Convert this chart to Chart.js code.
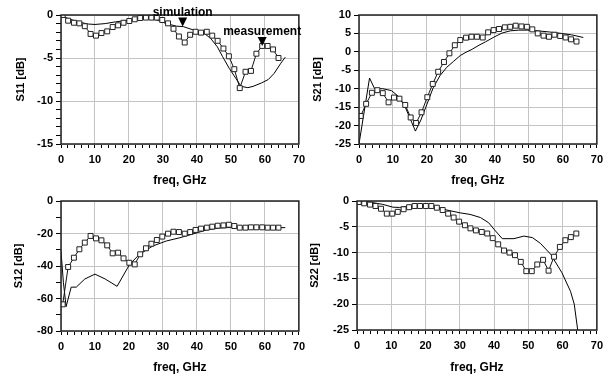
<!DOCTYPE html>
<html>
<head>
<meta charset="utf-8">
<script src="https://cdn.jsdelivr.net/npm/chart.js@4.4.1/dist/chart.umd.min.js"></script>
<style>
  html, body { margin: 0; padding: 0; background: #fff; }
  #wrap { position: relative; width: 613px; height: 376px; overflow: hidden; }
  .panel { position: absolute; }
</style>
</head>
<body>
<div id="wrap">
  <div class="panel" style="left:0px;top:0px;width:310px;height:190px"><canvas id="s11"></canvas></div>
  <div class="panel" style="left:300px;top:0px;width:308px;height:190px"><canvas id="s21"></canvas></div>
  <div class="panel" style="left:0px;top:186px;width:310px;height:190px"><canvas id="s12"></canvas></div>
  <div class="panel" style="left:300px;top:186px;width:308px;height:190px"><canvas id="s22"></canvas></div>
</div>
<script>
// measured frequencies (GHz), shared by all four measured curves
const measFreq = [0.5, 2.1, 3.8, 5.4, 7.0, 8.7, 10.3, 11.9, 13.6, 15.2, 16.8, 18.4, 20.1, 21.7, 23.3, 25.0, 26.6, 28.2, 29.8, 31.5,
  33.1, 34.7, 36.4, 38.0, 39.6, 41.2, 42.9, 44.5, 46.1, 47.8, 49.4, 51.0, 52.6, 54.3, 55.9, 57.5, 59.2, 60.8, 62.4, 64.0];

const s11Meas = [0, -0.66, -0.9, -0.97, -1.3, -2.2, -2.4, -2.1, -1.9, -1.4, -1.2, -0.9, -0.7, -0.5, -0.35, -0.3, -0.3, -0.3, -0.58, -0.97,
  -1.6, -2.5, -3.2, -2.3, -1.95, -2.05, -1.95, -2.4, -3.0, -3.9, -4.8, -6.3, -8.5, -6.6, -6.5, -4.5, -3.6, -3.6, -4.0, -5.0];
const s11SimFreq = [0, 2, 5, 8, 10, 13, 16, 20, 24, 28, 31, 34, 36, 39, 42, 44, 46, 47.5, 49.5, 51.5, 53, 55, 56.5, 59, 61, 62.7, 64.7, 66];
const s11Sim = [0, -0.4, -0.8, -1.05, -1.1, -1.0, -0.8, -0.6, -0.5, -0.55, -1.0, -1.3, -1.35, -1.75, -2.1, -2.7, -3.7, -4.8, -6.2, -7.4,
  -8.3, -8.45, -8.3, -7.9, -7.5, -6.8, -5.6, -4.9];

const s21Meas = [-17.4, -14.1, -11.1, -10.4, -11.2, -13.7, -12.4, -12.7, -14.4, -17.8, -19.3, -16.4, -12.3, -8.7, -5.4, -2.75, -0.4, 1.8, 3.2, 3.85,
  4.1, 4.1, 3.9, 5.3, 5.9, 6.2, 6.65, 6.8, 7.1, 6.9, 6.8, 6.1, 5.0, 4.4, 4.1, 4.65, 4.3, 3.9, 3.4, 2.8];
const s21SimFreq = [0, 3.1, 4.6, 7, 9.5, 11.5, 13.5, 15, 16.6, 18.2, 20, 21.8, 23.8, 25.8, 27.8, 29.8, 31.5, 33.3, 35.3, 37.2,
  39.7, 42.1, 44.5, 47, 49.5, 52, 56, 59.6, 62.6, 66];
const s21Sim = [-25, -7.1, -10, -10, -10.5, -12, -14.8, -18, -21.5, -18.5, -14.2, -9.8, -6.5, -4.2, -2.6, -1.0, -0.1, 0.7, 1.8, 2.7,
  4.0, 5.1, 5.7, 5.9, 5.9, 5.75, 5.4, 5.0, 4.6, 3.9];

const s12Meas = [-63.6, -40.6, -34.9, -29.7, -25.6, -21.5, -23, -24.2, -27.3, -32.2, -31.8, -35.3, -38, -39, -32.8, -29.1, -26.3, -24, -21.9, -20.1,
  -18.9, -19.1, -20.1, -19.1, -17.8, -17, -16.4, -15.8, -15.2, -15, -14.6, -15.4, -16.4, -16.4, -16.2, -16.2, -16.2, -16.4, -16.4, -16.4];
const s12SimFreq = [0, 0.7, 1.5, 3, 4.5, 7, 10, 13, 16.5, 20.2, 23, 27, 31, 35, 38.8, 42.7, 46.6, 50, 55, 60, 66];
const s12Sim = [-31, -50, -65, -53, -53, -48, -45, -48, -52.5, -39, -33, -27.7, -24.6, -22.6, -20.3, -17.9, -16.6, -16.3, -16.4, -16.4, -16.4];

const s22Meas = [-0.2, -0.45, -0.7, -0.97, -1.5, -2.45, -2.45, -2.1, -1.6, -1.2, -0.97, -0.97, -0.97, -0.97, -1.3, -1.75, -2.45, -3.2, -4.0, -4.7,
  -5.3, -5.7, -6.0, -6.3, -7.2, -8.4, -9.6, -10.0, -10.5, -11.8, -13.6, -13.6, -12.3, -11.4, -13.5, -10.8, -8.9, -7.6, -7.0, -6.3];
const s22SimFreq = [0, 3.6, 7.5, 10.5, 12.4, 15.4, 19.3, 23.2, 26.2, 30.1, 33, 36, 38.4, 40.4, 42.4, 45.8, 48.7, 51.2, 53.5, 56.5,
  59.8, 62.3, 63.4, 64.4];
const s22Sim = [0, -0.2, -0.65, -1.2, -1.25, -0.97, -0.84, -1.1, -1.75, -2.3, -2.6, -3.2, -4.2, -5.8, -7.3, -7.3, -6.8, -7.1, -8.2, -10.3,
  -13.9, -17.5, -20, -25];

// marker annotations on S11
const markerLabels = ["simulation", "measurement"];
const markerFreq = [35.8, 59.2];
const markerValue = [-1.35, -3.6];

const xTicksMajor = 10;

Chart.defaults.font.family = "'Liberation Sans', Arial, sans-serif";
Chart.defaults.font.weight = "bold";
Chart.defaults.color = "#000";

const pairs = (xs, ys) => xs.map((x, i) => ({ x: x, y: ys[i] }));

const boxPlugin = {
  id: "box",
  afterDraw(chart) {
    const { ctx, chartArea: a } = chart;
    ctx.save();
    ctx.strokeStyle = "#222";
    ctx.lineWidth = 1.5;
    ctx.strokeRect(a.left, a.top, a.right - a.left, a.bottom - a.top);
    ctx.restore();
  },
};

const makeMarkerPlugin = (labels, xs, ys) => ({
  id: "markers",
  afterDraw(chart) {
    const { ctx } = chart;
    const x = chart.scales.x;
    const y = chart.scales.y;
    ctx.save();
    ctx.fillStyle = "#000";
    ctx.font = "bold 12px 'Liberation Sans', Arial, sans-serif";
    ctx.textAlign = "center";
    ctx.textBaseline = "alphabetic";
    labels.forEach((lab, i) => {
      const px = x.getPixelForValue(xs[i]);
      const py = y.getPixelForValue(ys[i]);
      ctx.beginPath();
      ctx.moveTo(px, py);
      ctx.lineTo(px - 4.5, py - 9);
      ctx.lineTo(px + 4.5, py - 9);
      ctx.closePath();
      ctx.fill();
      ctx.fillText(lab, px, py - 10.5);
    });
    ctx.restore();
  },
});

const makeChart = (id, cfg) => {
  const plugins = [boxPlugin];
  if (cfg.markers) plugins.push(cfg.markers);
  return new Chart(document.getElementById(id), {
    type: "line",
    data: {
      datasets: [
        {
          label: "measurement",
          data: pairs(measFreq, cfg.meas),
          borderColor: "#111",
          borderWidth: 1,
          pointStyle: "rect",
          pointRadius: 3.5,
          pointBackgroundColor: "#fff",
          pointBorderColor: "#222",
          pointBorderWidth: 1,
          tension: 0,
        },
        {
          label: "simulation",
          data: pairs(cfg.simFreq, cfg.sim),
          borderColor: "#000",
          borderWidth: 1,
          pointRadius: 0,
          tension: 0,
        },
      ],
    },
    options: {
      responsive: true,
      maintainAspectRatio: false,
      animation: false,
      layout: { padding: { top: 15, right: 10, left: 0, bottom: 0 } },
      plugins: { legend: { display: false }, tooltip: { enabled: false } },
      scales: {
        x: {
          type: "linear",
          min: 0,
          max: 70,
          afterFit: (s) => { s.height = cfg.xHeight; },
          ticks: {
            stepSize: 2,
            autoSkip: false,
            maxRotation: 0,
            padding: 5,
            font: { size: 11, weight: "bold" },
            callback: (v) => (v % xTicksMajor === 0 ? String(v) : ""),
          },
          grid: {
            color: (c) => (c.tick && c.tick.value % xTicksMajor === 0 ? "#c4c4c4" : "rgba(0,0,0,0)"),
            tickColor: "#000",
            tickLength: 4,
          },
          border: { display: false },
          title: {
            display: true,
            text: "freq, GHz",
            font: { size: 12, weight: "bold" },
            padding: { top: 0, bottom: cfg.xTitlePad },
          },
        },
        y: {
          type: "linear",
          min: cfg.yMin,
          max: cfg.yMax,
          afterFit: (s) => { s.width = cfg.yWidth; },
          ticks: {
            stepSize: cfg.yStep,
            autoSkip: false,
            padding: 3,
            font: { size: 11, weight: "bold" },
            callback: (v) => (v % cfg.yMajor === 0 ? String(v) : ""),
          },
          grid: {
            color: (c) => (c.tick && c.tick.value % cfg.yMajor === 0 ? "#c4c4c4" : "rgba(0,0,0,0)"),
            tickColor: "#000",
            tickLength: 5,
          },
          border: { display: false },
          title: {
            display: true,
            text: cfg.yTitle,
            font: { size: 11, weight: "bold" },
            padding: { top: cfg.yTitlePad, bottom: 0 },
          },
        },
      },
    },
    plugins: plugins,
  });
};

window.addEventListener("load", () => {
  makeChart("s11", {
    meas: s11Meas, simFreq: s11SimFreq, sim: s11Sim,
    yMin: -15, yMax: 0, yStep: 1, yMajor: 5, yTitle: "S11 [dB]",
    yWidth: 61, yTitlePad: 14.4, xHeight: 46, xTitlePad: 2,
    markers: makeMarkerPlugin(markerLabels, markerFreq, markerValue),
  });
  makeChart("s21", {
    meas: s21Meas, simFreq: s21SimFreq, sim: s21Sim,
    yMin: -25, yMax: 10, yStep: 5, yMajor: 5, yTitle: "S21 [dB]",
    yWidth: 59, yTitlePad: 11.4, xHeight: 46, xTitlePad: 2,
  });
  makeChart("s12", {
    meas: s12Meas, simFreq: s12SimFreq, sim: s12Sim,
    yMin: -80, yMax: 0, yStep: 10, yMajor: 20, yTitle: "S12 [dB]",
    yWidth: 61, yTitlePad: 12.4, xHeight: 45, xTitlePad: 1,
  });
  makeChart("s22", {
    meas: s22Meas, simFreq: s22SimFreq, sim: s22Sim,
    yMin: -25, yMax: 0, yStep: 5, yMajor: 5, yTitle: "S22 [dB]",
    yWidth: 57, yTitlePad: 8, xHeight: 46, xTitlePad: 1,
  });
});
</script>
</body>
</html>
